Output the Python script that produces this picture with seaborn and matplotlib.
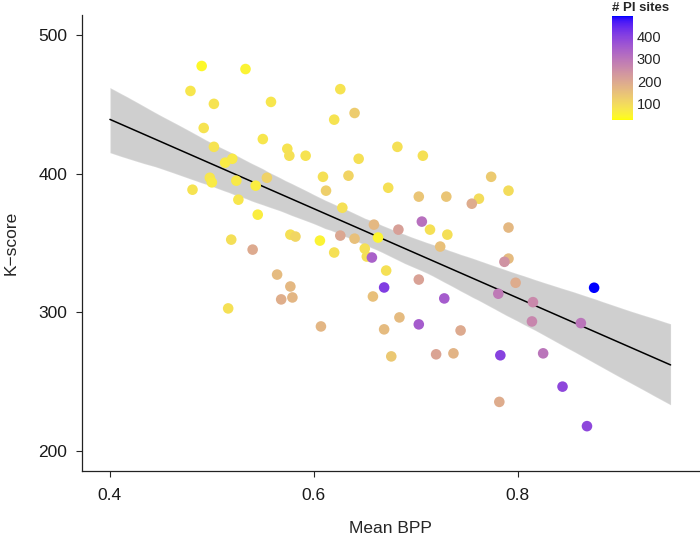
import numpy as np
import pandas as pd
import seaborn as sns
import matplotlib.pyplot as plt
from matplotlib.colors import ListedColormap, Normalize
from matplotlib.cm import ScalarMappable

# data
mean_bpp = [0.490, 0.533, 0.479, 0.502, 0.558, 0.626, 0.620, 0.640, 0.492, 0.550,
            0.502, 0.574, 0.576, 0.592, 0.644, 0.682, 0.707, 0.513, 0.520, 0.498,
            0.500, 0.524, 0.554, 0.543, 0.481, 0.526, 0.609, 0.634, 0.612, 0.628,
            0.545, 0.673, 0.703, 0.730, 0.774, 0.791, 0.762, 0.755, 0.706, 0.791,
            0.659, 0.683, 0.714, 0.731, 0.724, 0.663, 0.650, 0.652, 0.657, 0.626,
            0.640, 0.606, 0.620, 0.577, 0.582, 0.519, 0.540, 0.564, 0.577, 0.568,
            0.579, 0.516, 0.607, 0.671, 0.703, 0.669, 0.658, 0.728, 0.684, 0.669,
            0.703, 0.744, 0.676, 0.720, 0.737, 0.783, 0.825, 0.791, 0.787, 0.798,
            0.781, 0.815, 0.814, 0.862, 0.875, 0.844, 0.868, 0.782]
k_score = [477.7, 475.5, 459.7, 450.4, 451.8, 461.0, 439.0, 443.8, 433.0, 425.0,
           419.4, 418.0, 413.0, 413.0, 410.8, 419.4, 413.0, 408.0, 410.8, 397.1,
           393.8, 395.0, 397.1, 391.4, 388.5, 381.3, 397.8, 398.6, 387.8, 375.5,
           370.5, 389.9, 383.5, 383.5, 397.8, 387.8, 382.0, 378.4, 365.5, 361.2,
           363.3, 359.7, 359.7, 356.1, 347.5, 354.0, 346.0, 340.3, 339.6, 355.4,
           353.2, 351.8, 343.2, 356.1, 354.7, 352.5, 345.3, 327.3, 318.7, 309.4,
           310.8, 302.9, 289.9, 330.2, 323.7, 318.0, 311.5, 310.1, 296.4, 287.8,
           291.4, 287.0, 268.3, 269.8, 270.5, 269.1, 270.5, 338.8, 336.5, 321.4,
           313.5, 307.4, 293.5, 292.3, 317.8, 246.5, 218.0, 235.5]
pi_sites = [40, 50, 75, 80, 75, 80, 80, 125, 80, 75,
            80, 80, 85, 80, 85, 85, 85, 65, 70, 75,
            65, 70, 115, 60, 80, 75, 85, 110, 120, 85,
            60, 85, 140, 140, 130, 95, 95, 190, 310, 165,
            165, 215, 85, 90, 150, 45, 85, 90, 340, 200,
            150, 50, 85, 85, 105, 90, 195, 160, 165, 185,
            170, 85, 170, 85, 210, 410, 150, 350, 160, 160,
            350, 195, 135, 205, 175, 400, 300, 160, 240, 190,
            290, 260, 265, 300, 490, 390, 390, 190]
x_ticks = [0.4, 0.6, 0.8]
y_ticks = [200, 300, 400, 500]
cbar_ticks = [100, 200, 300, 400]

df = pd.DataFrame({'Mean BPP': mean_bpp, 'K-score': k_score, 'sites': pi_sites})


# yellow -> blue gradient interpolated in Lab (like ggplot's gradient scale)
def to_lab(rgb):
    c = np.asarray(rgb, float)
    lin = np.where(c <= 0.04045, c / 12.92, ((c + 0.055) / 1.055) ** 2.4)
    m = np.array([[0.4124, 0.3576, 0.1805], [0.2126, 0.7152, 0.0722], [0.0193, 0.1192, 0.9505]])
    xyz = m @ lin / np.array([0.95047, 1.0, 1.08883])
    f = np.where(xyz > (6 / 29) ** 3, np.cbrt(xyz), xyz / (3 * (6 / 29) ** 2) + 4 / 29)
    return np.array([116 * f[1] - 16, 500 * (f[0] - f[1]), 200 * (f[1] - f[2])])


def from_lab(lab):
    fy = (lab[0] + 16) / 116
    f = np.array([fy + lab[1] / 500, fy, fy - lab[2] / 200])
    xyz = np.where(f > 6 / 29, f ** 3, 3 * (6 / 29) ** 2 * (f - 4 / 29)) * np.array([0.95047, 1.0, 1.08883])
    mi = np.array([[3.2406, -1.5372, -0.4986], [-0.9689, 1.8758, 0.0415], [0.0557, -0.2040, 1.0570]])
    lin = mi @ xyz
    c = np.where(lin <= 0.0031308, 12.92 * lin, 1.055 * np.clip(lin, 0, None) ** (1 / 2.4) - 0.055)
    return np.clip(c, 0, 1)


lo, hi = to_lab([1, 1, 0]), to_lab([0, 0, 1])
cmap = ListedColormap([from_lab(lo + t * (hi - lo)) for t in np.linspace(0, 1, 256)])
norm = Normalize(25, 490)

sns.set_style('ticks')
plt.rcParams['font.family'] = ['Liberation Sans', 'DejaVu Sans']

fig = plt.figure(figsize=(7, 5.39), dpi=100)
ax = fig.add_axes([0.117, 0.126, 0.881, 0.846])

# fit line over the full 0.4-0.95 range
ax.set_xlim(0.4, 0.95)
sns.regplot(data=df, x='Mean BPP', y='K-score', scatter=False, truncate=False, ci=95,
            seed=0, color='black', line_kws={'lw': 1.1}, ax=ax)
for coll in ax.collections:
    coll.set_alpha(0.19)

sns.scatterplot(data=df, x='Mean BPP', y='K-score', hue='sites', palette=cmap, hue_norm=norm,
                s=58, linewidth=0, legend=False, zorder=3, ax=ax)

ax.set_xlim(0.3725, 0.9775)
ax.set_ylim(185.6, 514.4)
ax.set_xticks(x_ticks)
ax.set_yticks(y_ticks)
ax.set_xticklabels([f'{t:.1f}' for t in x_ticks])
ax.set_xlabel('Mean BPP', fontsize=12.5, labelpad=13)
ax.set_ylabel('K\u2212score', fontsize=12.5, labelpad=14)
ax.tick_params(axis='x', pad=8)
ax.tick_params(axis='y', pad=6.5)
ax.tick_params(labelsize=12.5, length=4, width=0.8, labelcolor='#1a1a1a')
for side in ['top', 'right']:
    ax.spines[side].set_visible(False)
for side in ['left', 'bottom']:
    ax.spines[side].set_linewidth(0.9)
    ax.spines[side].set_color('#222222')

# colour legend
cax = fig.add_axes([0.874, 0.777, 0.03, 0.193])
cb = fig.colorbar(ScalarMappable(norm=norm, cmap=cmap), cax=cax)
cb.outline.set_visible(False)
cb.set_ticks(cbar_ticks)
cax.yaxis.set_ticks_position('both')
cax.tick_params(direction='in', length=4, width=0.8, color='white', labelsize=10.5,
                labelleft=False, labelright=True, pad=3)
cax.set_title('# PI sites', loc='left', fontsize=9.5, fontweight='bold', pad=4)

fig.savefig('out.png', dpi=100)
